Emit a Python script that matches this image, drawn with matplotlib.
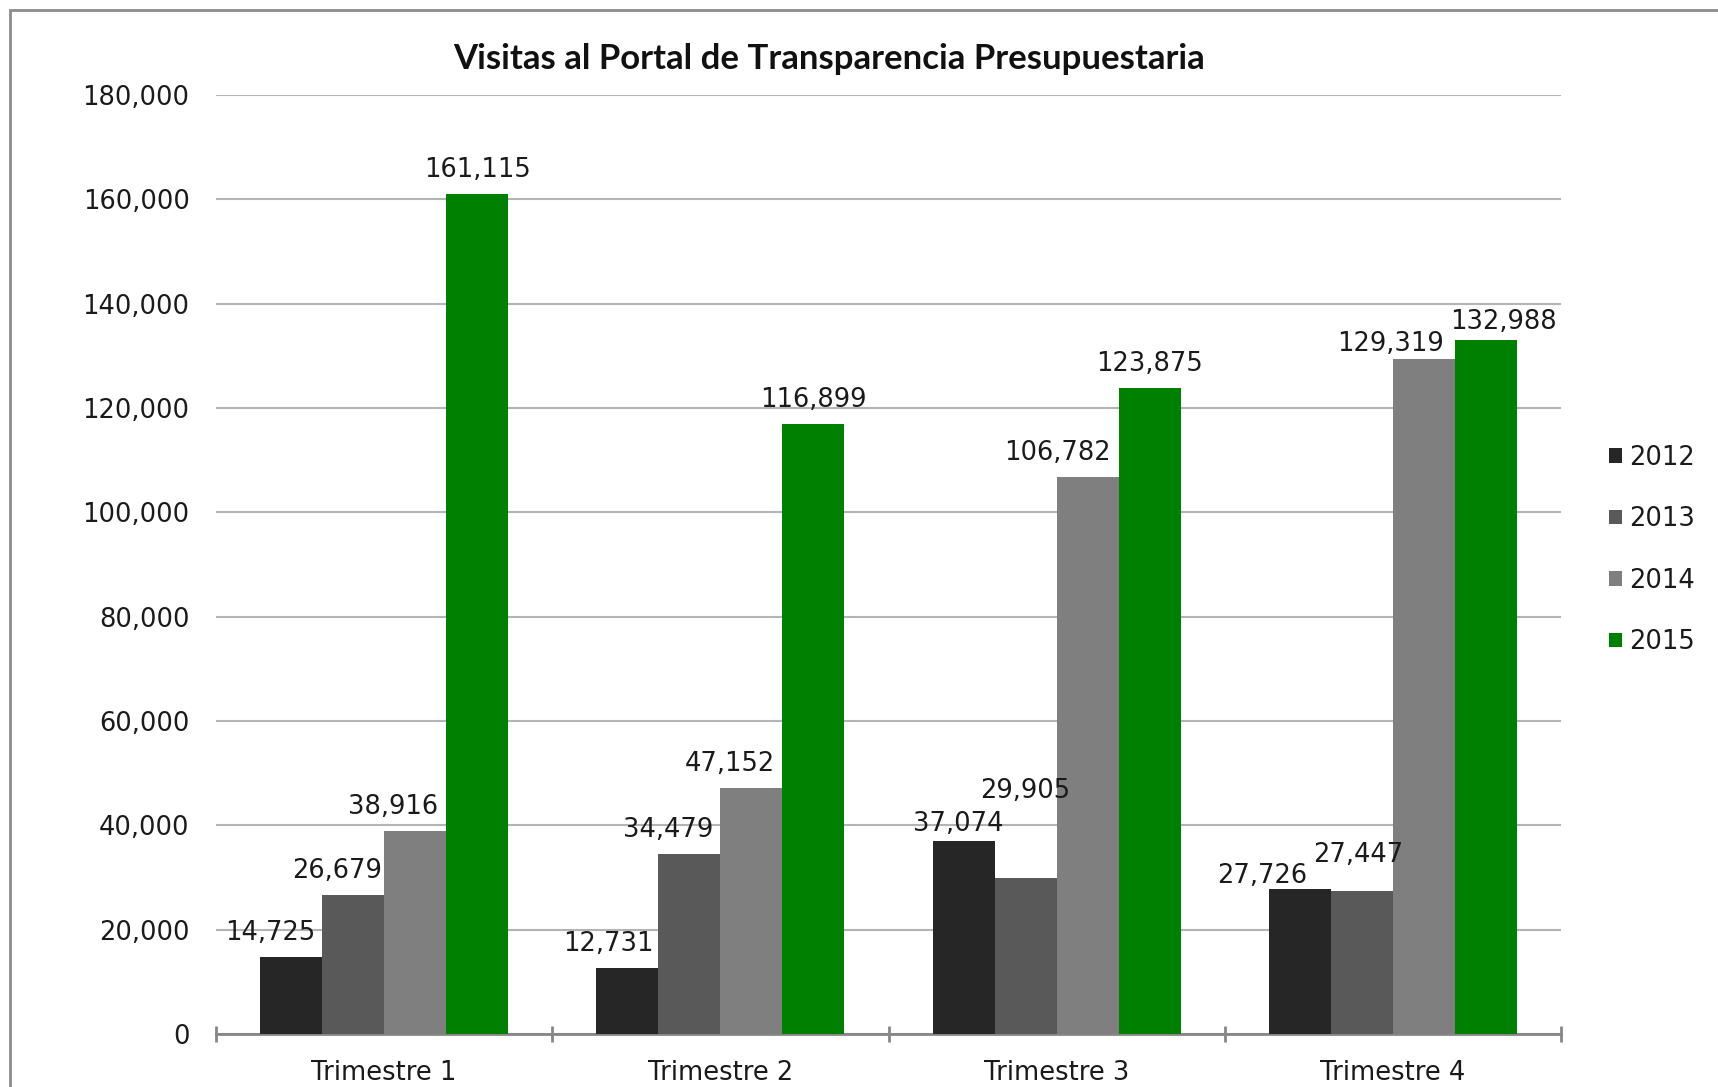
import numpy as np
import matplotlib.pyplot as plt
from matplotlib.patches import Rectangle

trimestres = ["Trimestre 1", "Trimestre 2", "Trimestre 3", "Trimestre 4"]
anios = ["2012", "2013", "2014", "2015"]
v2012 = [14725, 12731, 37074, 27726]
v2013 = [26679, 34479, 29905, 27447]
v2014 = [38916, 47152, 106782, 129319]
v2015 = [161115, 116899, 123875, 132988]
series = [v2012, v2013, v2014, v2015]
colores = ["#262626", "#595959", "#7f7f7f", "#008000"]

# desplazamiento de las etiquetas (pixeles) respecto al centro superior de la barra
dx = [[-21, -19, -5, -38], [-16, -21, 0, -4], [-22, -22, -30, -33], [0, 0, 0, 18]]
dy = [[24, 24, 17, 13], [24, 24, 87, 36], [24, 24, 24, 15], [24, 24, 24, 18]]

fs = 18.5

fig = plt.figure(figsize=(17.18, 10.87), dpi=100)
fig.patches.append(Rectangle((10 / 1718, -0.1), 1.2, 1.1 - 10 / 1087, transform=fig.transFigure,
                             fill=False, edgecolor="#8c8c8c", linewidth=2, zorder=0))
ax = fig.add_axes([216 / 1718, 1 - 1034 / 1087, (1561 - 216) / 1718, (1034 - 95) / 1087])

x = np.arange(len(trimestres))
w = 0.1845
for i, vals in enumerate(series):
    pos = x + (i - 1.5) * w
    ax.bar(pos, vals, width=w, color=colores[i], label=anios[i], zorder=3)
    for j, v in enumerate(vals):
        ax.annotate(f"{v:,}", (pos[j], v), xytext=(dx[i][j], dy[i][j]), textcoords="offset pixels",
                    ha="center", va="center", fontsize=fs, color="#1a1a1a", zorder=4)

ax.set_ylim(0, 180000)
ax.set_xlim(-0.5, 3.5)
ax.set_yticks(np.arange(0, 180001, 20000))
ax.set_yticklabels([f"{t:,}" for t in range(0, 180001, 20000)], fontsize=fs, color="#1a1a1a")
ax.set_xticks(x)
ax.set_xticklabels(trimestres, fontsize=fs, color="#1a1a1a")
ax.set_xticks(np.arange(-0.5, 4, 1), minor=True)
ax.tick_params(axis="y", length=0, pad=19)
ax.tick_params(axis="x", which="major", length=0, pad=19)
ax.tick_params(axis="x", which="minor", direction="inout", length=12, width=2, color="#868686")
ax.grid(axis="y", color="#b4b4b4", linewidth=1.5, zorder=0)
ax.set_axisbelow(True)
for s in ["top", "right", "left"]:
    ax.spines[s].set_visible(False)
ax.spines["bottom"].set_color("#868686")
ax.spines["bottom"].set_linewidth(2)

fig.text(829 / 1718, 1 - 59 / 1087, "Visitas al Portal de Transparencia Presupuestaria",
         ha="center", va="center", fontsize=25, fontweight="bold", family="Lato", color="#111111")

leg = ax.legend(loc="center left", bbox_to_anchor=(1596 / 1718, 1 - 550 / 1087), bbox_transform=fig.transFigure,
                frameon=False, fontsize=fs, handlelength=0.5, handleheight=0.5, handletextpad=0.3,
                labelspacing=1.38, borderpad=0)
for t in leg.get_texts():
    t.set_color("#1a1a1a")

fig.savefig("out.png", dpi=100)
